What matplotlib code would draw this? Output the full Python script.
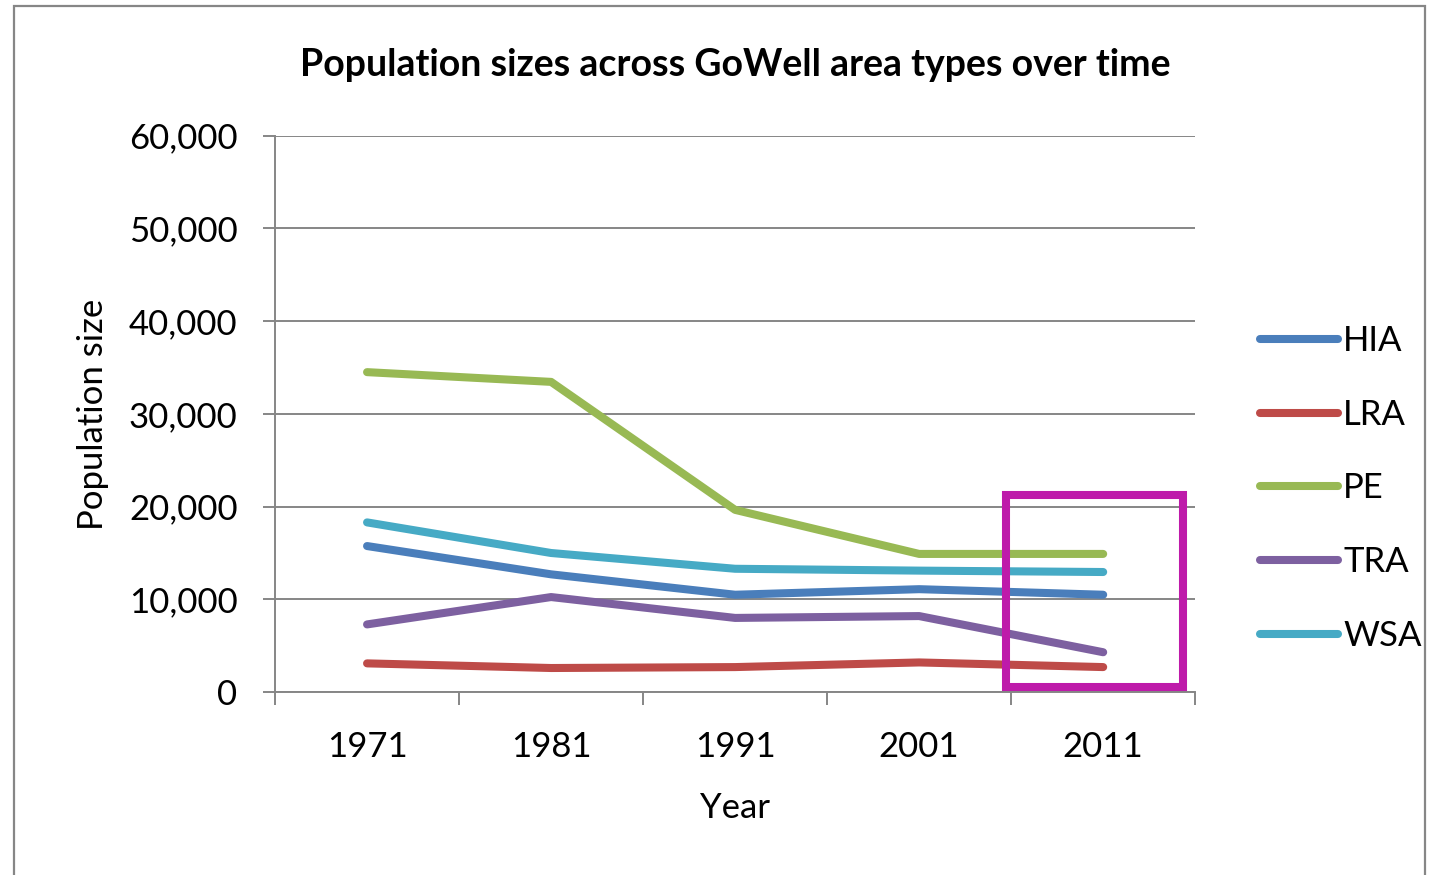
import numpy as np
import matplotlib.pyplot as plt
from matplotlib.patches import Rectangle

plt.rcParams['font.family'] = ['Lato', 'DejaVu Sans']

# population per area type, census years
years = ['1971', '1981', '1991', '2001', '2011']
HIA = [15750, 12700, 10500, 11100, 10500]
LRA = [3100, 2600, 2700, 3200, 2700]
PE = [34500, 33450, 19650, 14900, 14900]
TRA = [7300, 10250, 8000, 8200, 4300]
WSA = [18300, 15000, 13300, 13100, 12950]

series = [('HIA', HIA, '#4A7EBB'),
          ('LRA', LRA, '#BE4B48'),
          ('PE', PE, '#98B954'),
          ('TRA', TRA, '#7D60A0'),
          ('WSA', WSA, '#46AAC5')]

grey = '#868686'

fig = plt.figure(figsize=(14.4, 8.75), dpi=100)
ax = fig.add_axes([0.191, 0.209, 0.639, 0.636])

x = np.arange(len(years))
for name, vals, col in series:
    ax.plot(x, vals, color=col, lw=5.8, solid_capstyle='round',
            solid_joinstyle='round', label=name)

ax.set_xlim(-0.5, len(years) - 0.5)
ax.set_ylim(0, 60000)

# category ticks sit between the years, labels in the middle
ax.set_xticks(np.arange(-0.5, len(years)))
ax.set_xticklabels([])
ax.set_xticks(x, minor=True)
ax.set_xticklabels(years, minor=True)
ax.tick_params(axis='x', which='major', length=9, width=1.4, color=grey, direction='out')
ax.tick_params(axis='x', which='minor', length=0, pad=28, labelsize=25)

ax.set_yticks(np.arange(0, 60001, 10000))
ax.set_yticklabels(['{:,}'.format(v) for v in range(0, 60001, 10000)])
ax.tick_params(axis='y', length=9, width=1.4, color=grey, pad=18, labelsize=25)

ax.grid(axis='y', color=grey, lw=1.4)
ax.set_axisbelow(True)
for s in ['top', 'right']:
    ax.spines[s].set_visible(False)
for s in ['left', 'bottom']:
    ax.spines[s].set_color(grey)
    ax.spines[s].set_linewidth(1.4)

ax.set_xlabel('Year', fontsize=25, labelpad=21)
ax.set_ylabel('Population size', fontsize=25, labelpad=14)
ax.set_title('Population sizes across GoWell area types over time',
             fontsize=27, fontweight='bold', pad=43)

# highlight box around the last census
ax.add_patch(Rectangle((3.47, 540), 0.965, 20760, fill=False,
                       edgecolor='#BE1AAA', lw=5.8, clip_on=False, zorder=5))

leg = ax.legend(loc='center left', bbox_to_anchor=(1.055, 0.366), frameon=False,
                fontsize=25, handlelength=2.25, handletextpad=0.15,
                labelspacing=1.2, borderaxespad=0)

# outer chart border
fig.patches.append(Rectangle((14 / 1440, -0.05), 1411 / 1440, 1.05 - 6 / 875,
                             transform=fig.transFigure, fill=False,
                             edgecolor=grey, lw=1.6))

fig.savefig('out.png', dpi=100, facecolor='white')
